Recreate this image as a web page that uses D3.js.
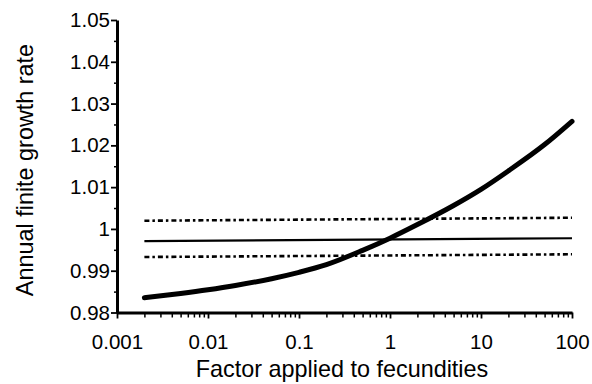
<!DOCTYPE html>
<html>
<head>
<meta charset="utf-8">
<script src="https://cdn.jsdelivr.net/npm/d3@7"></script>
<style>
  html, body { margin: 0; padding: 0; background: #fff; }
  svg { display: block; }
  text { font-family: "Liberation Sans", Arial, Helvetica, sans-serif; fill: #000; }
</style>
</head>
<body>
<svg id="chart" width="592" height="384"></svg>
<script>
// ---- data ----
const curveFactor = [0.002, 0.005, 0.01, 0.02, 0.05, 0.1, 0.2, 0.5, 1, 2, 5, 10, 20, 50, 100];
const curveRate   = [0.98352, 0.98456, 0.98545, 0.98647, 0.98809, 0.98961, 0.99145, 0.99488, 0.99779, 1.00104, 1.00561, 1.00947, 1.01390, 1.02019, 1.02575];

const refFactor = [0.002, 100];
const solidRate = [0.99710, 0.99777];
const upperRate = [1.00196, 1.00268];
const lowerRate = [0.99328, 0.99393];

const xTickValues = [0.001, 0.01, 0.1, 1, 10, 100];
const xTickLabels = ["0.001", "0.01", "0.1", "1", "10", "100"];
const yTickValues = [0.98, 0.99, 1.00, 1.01, 1.02, 1.03, 1.04, 1.05];
const yTickLabels = ["0.98", "0.99", "1", "1.01", "1.02", "1.03", "1.04", "1.05"];

const xTitle = "Factor applied to fecundities";
const yTitle = "Annual finite growth rate";

// ---- drawing ----
const svg = d3.select("#chart");
const x = d3.scaleLog().domain([0.001, 100]).range([117, 572]);
const y = d3.scaleLinear().domain([0.98, 1.05]).range([312.5, 20]);

// minor ticks
const xMinor = [];
[0.001, 0.01, 0.1, 1, 10].forEach(d => { for (let k = 2; k <= 9; k++) xMinor.push(d * k); });
const yMinor = yTickValues.slice(0, -1).map(v => v + 0.005);

const fmtX = d => xTickLabels[xTickValues.findIndex(v => Math.abs(v - d) < d * 1e-6)];
const fmtY = d => yTickLabels[yTickValues.findIndex(v => Math.abs(v - d) < 1e-9)];

// x axis minor
svg.append("g").attr("transform", `translate(0,${y(0.98)})`)
  .call(d3.axisBottom(x).tickValues(xMinor).tickSize(5).tickSizeOuter(0).tickFormat(""))
  .call(g => g.select(".domain").remove())
  .call(g => g.selectAll("line").attr("stroke", "#000").attr("stroke-width", 1.5));

// y axis minor
svg.append("g").attr("transform", `translate(${x(0.001)},0)`)
  .call(d3.axisLeft(y).tickValues(yMinor).tickSize(3).tickSizeOuter(0).tickFormat(""))
  .call(g => g.select(".domain").remove())
  .call(g => g.selectAll("line").attr("stroke", "#000").attr("stroke-width", 1.5));

// x axis major
const gx = svg.append("g").attr("transform", `translate(0,${y(0.98)})`)
  .call(d3.axisBottom(x).tickValues(xTickValues).tickSize(6).tickSizeOuter(0).tickPadding(16).tickFormat(fmtX));
gx.select(".domain").attr("stroke", "#000").attr("stroke-width", 3);
gx.selectAll(".tick line").attr("stroke", "#000").attr("stroke-width", 1.8);
gx.selectAll(".tick text").attr("font-size", 20.5).attr("font-family", "Liberation Sans, Arial, sans-serif").attr("fill", "#000");

// y axis major
const gy = svg.append("g").attr("transform", `translate(${x(0.001)},0)`)
  .call(d3.axisLeft(y).tickValues(yTickValues).tickSize(6).tickSizeOuter(0).tickPadding(1).tickFormat(fmtY));
gy.select(".domain").attr("stroke", "#000").attr("stroke-width", 3);
gy.selectAll(".tick line").attr("stroke", "#000").attr("stroke-width", 1.8);
gy.selectAll(".tick text").attr("font-size", 20.5).attr("font-family", "Liberation Sans, Arial, sans-serif").attr("fill", "#000");

// reference lines
const lineRef = d3.line().x(d => x(d[0])).y(d => y(d[1]));
const mk = arr => refFactor.map((f, i) => [f, arr[i]]);

svg.append("path").datum(mk(upperRate)).attr("d", lineRef)
  .attr("fill", "none").attr("stroke", "#000").attr("stroke-width", 2.6).attr("stroke-dasharray", "5,3,2.5,3");
svg.append("path").datum(mk(lowerRate)).attr("d", lineRef)
  .attr("fill", "none").attr("stroke", "#000").attr("stroke-width", 2.6).attr("stroke-dasharray", "5,3,2.5,3");
svg.append("path").datum(mk(solidRate)).attr("d", lineRef)
  .attr("fill", "none").attr("stroke", "#000").attr("stroke-width", 2.2);

// main curve
const lineCurve = d3.line().x(d => x(d[0])).y(d => y(d[1])).curve(d3.curveMonotoneX);
svg.append("path").datum(curveFactor.map((f, i) => [f, curveRate[i]])).attr("d", lineCurve)
  .attr("fill", "none").attr("stroke", "#000").attr("stroke-width", 5).attr("stroke-linecap", "round");

// titles
svg.append("text").attr("x", 342).attr("y", 377).attr("text-anchor", "middle")
  .attr("font-size", 23.4).text(xTitle);
svg.append("text").attr("transform", "translate(33,170) rotate(-90)").attr("text-anchor", "middle")
  .attr("font-size", 23.4).text(yTitle);
</script>
</body>
</html>
